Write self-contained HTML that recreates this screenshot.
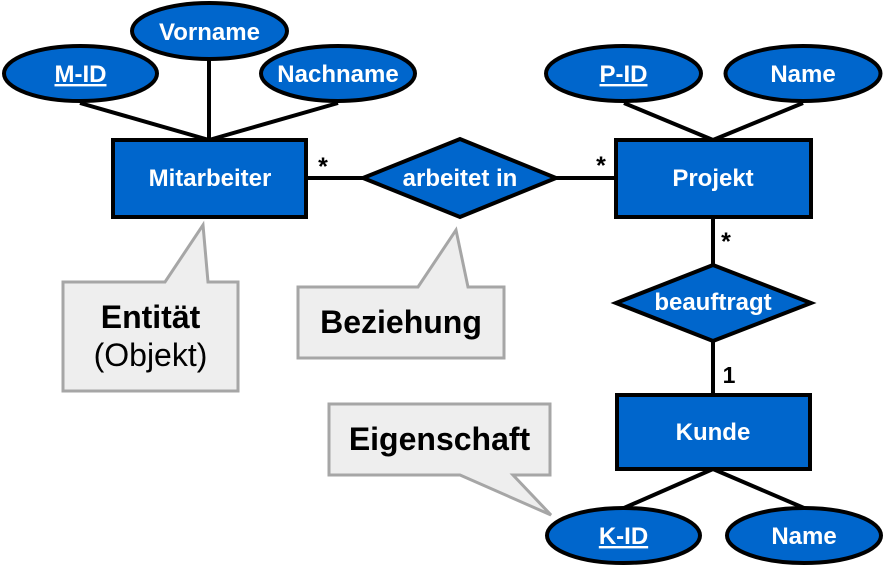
<!DOCTYPE html>
<html>
<head>
<meta charset="utf-8">
<style>
  html, body { margin:0; padding:0; background:#ffffff; }
  svg { display:block; }
  .lbl { font-family:"Liberation Sans", Arial, sans-serif; font-weight:bold; font-size:24px; fill:#ffffff; text-anchor:middle; }
  .ul { text-decoration:underline; }
  .card { font-family:"Liberation Sans", Arial, sans-serif; font-weight:bold; fill:#000; text-anchor:middle; }
  .call { font-family:"Liberation Sans", Arial, sans-serif; font-size:32px; fill:#000; text-anchor:middle; }
</style>
</head>
<body>
<svg width="883" height="566" viewBox="0 0 883 566" xmlns="http://www.w3.org/2000/svg">
  <!-- connector lines -->
  <g stroke="#000" stroke-width="4" fill="none">
    <line x1="80" y1="103" x2="209" y2="140"/>
    <line x1="209" y1="60" x2="209" y2="140"/>
    <line x1="338" y1="103" x2="209" y2="140"/>
    <line x1="624" y1="103" x2="713" y2="140"/>
    <line x1="803" y1="103" x2="713" y2="140"/>
    <line x1="306" y1="178" x2="364" y2="178"/>
    <line x1="555" y1="178" x2="616" y2="178"/>
    <line x1="713" y1="217" x2="713" y2="266"/>
    <line x1="713" y1="340" x2="713" y2="395"/>
    <line x1="713" y1="469" x2="624" y2="508"/>
    <line x1="713" y1="469" x2="804" y2="508"/>
  </g>

  <!-- attribute ellipses -->
  <g fill="#0066cc" stroke="#000" stroke-width="4">
    <ellipse cx="80.5" cy="73.5" rx="76.5" ry="27.5"/>
    <ellipse cx="209.5" cy="31" rx="77.5" ry="28"/>
    <ellipse cx="338" cy="73.5" rx="77" ry="27.5"/>
    <ellipse cx="623.5" cy="73.5" rx="77.5" ry="27.5"/>
    <ellipse cx="803" cy="73.5" rx="77.5" ry="27.5"/>
    <ellipse cx="623.5" cy="535.5" rx="76.5" ry="27.5"/>
    <ellipse cx="804" cy="535.5" rx="77" ry="27.5"/>
  </g>

  <!-- entities -->
  <g fill="#0066cc" stroke="#000" stroke-width="4">
    <rect x="113" y="140" width="193" height="77"/>
    <rect x="616" y="140" width="195" height="77"/>
    <rect x="617" y="395" width="193" height="74"/>
  </g>

  <!-- relationships -->
  <g fill="#0066cc" stroke="#000" stroke-width="4" stroke-linejoin="miter">
    <polygon points="363,178 460,139 556,178 460,217"/>
    <polygon points="616,303 713,265 811,303 713,341"/>
  </g>

  <!-- labels -->
  <text class="lbl ul" x="80.5" y="82">M-ID</text>
  <text class="lbl" x="209.5" y="40">Vorname</text>
  <text class="lbl" x="338" y="82">Nachname</text>
  <text class="lbl ul" x="623.5" y="82">P-ID</text>
  <text class="lbl" x="803" y="82">Name</text>
  <text class="lbl ul" x="623.5" y="544">K-ID</text>
  <text class="lbl" x="804" y="544">Name</text>
  <text class="lbl" x="210" y="186">Mitarbeiter</text>
  <text class="lbl" x="713" y="186">Projekt</text>
  <text class="lbl" x="713" y="440">Kunde</text>
  <text class="lbl" x="460" y="186">arbeitet in</text>
  <text class="lbl" x="713" y="310">beauftragt</text>

  <!-- cardinalities -->
  <text class="card" x="323" y="175" style="font-size:25px">*</text>
  <text class="card" x="601" y="174" style="font-size:25px">*</text>
  <text class="card" x="726" y="250" style="font-size:25px">*</text>
  <text class="card" x="729" y="383" style="font-size:23px">1</text>

  <!-- callouts -->
  <g fill="#eeeeee" stroke="#a6a6a6" stroke-width="3" stroke-linejoin="miter">
    <polygon points="63,282 165,282 203,225 208,282 238,282 238,391 63,391"/>
    <polygon points="298,287 418,287 456,230 468,287 504,287 504,358 298,358"/>
    <polygon points="329,404 550,404 550,475 513,475 551,515 460,475 329,475"/>
  </g>
  <text class="call" x="150.5" y="328" font-weight="bold">Entität</text>
  <text class="call" x="150.5" y="366">(Objekt)</text>
  <text class="call" x="401" y="333" font-weight="bold">Beziehung</text>
  <text class="call" x="439.5" y="450" font-weight="bold">Eigenschaft</text>
</svg>
</body>
</html>
